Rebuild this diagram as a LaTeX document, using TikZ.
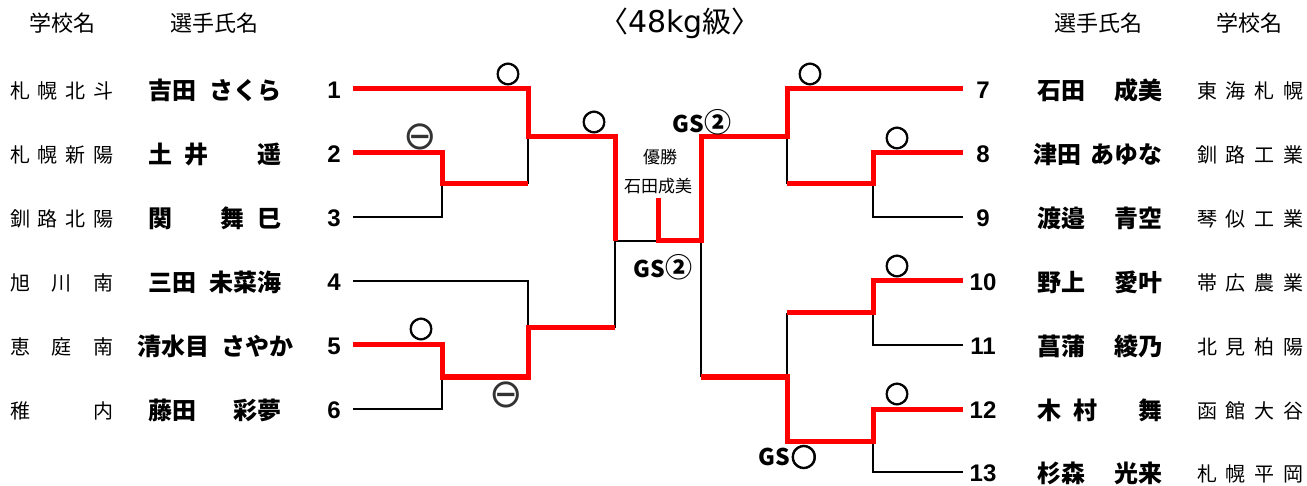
\documentclass[tikz,border=0pt]{standalone}
\usepackage{fontspec}
\newfontfamily\jp{Noto Sans CJK JP}
\newfontfamily\jppalt{Noto Sans CJK JP}[RawFeature=+palt]
\newfontfamily\numfont{Liberation Sans}
\newfontfamily\dvfont{DejaVu Sans}
\newfontfamily\okfont{DejaVu Sans}[FakeBold=2]
\newcommand{\spr}[2]{\hbox to #1pt{#2}}
\newcommand{\bigtwo}{{\fontsize{27}{27}\selectfont ②}}
\begin{document}
\begin{tikzpicture}[x=1pt,y=-1pt,
  school/.style={font=\jp\fontsize{20}{20}\selectfont, inner sep=0pt},
  pname/.style={font=\jp\bfseries\fontsize{24}{24}\selectfont, inner sep=0pt},
  pnum/.style={font=\numfont\bfseries\fontsize{24}{24}\selectfont, inner sep=0pt},
  hdr/.style={font=\jp\fontsize{22}{22}\selectfont, inner sep=0pt},
  okmark/.style={font=\okfont\fontsize{29}{29}\selectfont, inner sep=0pt},
  ngmark/.style={font=\dvfont\fontsize{40}{40}\selectfont, inner sep=0pt, text=black!80},
  gslabel/.style={font=\jp\bfseries\fontsize{23}{23}\selectfont, inner sep=0pt},
  small/.style={font=\jp\fontsize{17}{17}\selectfont, inner sep=0pt},
  win/.style={draw=red, line width=5pt, line join=miter},
  lose/.style={draw=black, line width=2pt}]
\useasboundingbox (0,0) rectangle (1307,486);

% headers
\node[hdr] (h1) at (62,23) {学校名};
\node[hdr] (h2) at (214,23) {選手氏名};
\node[hdr] (h3) at (1098,23) {選手氏名};
\node[hdr] (h4) at (1249,23) {学校名};
\node[inner sep=0pt] (title) at (680,23) {\jppalt\fontsize{29}{29}\selectfont 〈{\dvfont\fontsize{30}{30}\selectfont 48kg}級〉};

% left schools
\node[school] (s1) at (61.5,90.5) {\spr{103}{札\hfil 幌\hfil 北\hfil 斗}};
\node[school] (s2) at (61.5,154.5) {\spr{103}{札\hfil 幌\hfil 新\hfil 陽}};
\node[school] (s3) at (61.5,218.5) {\spr{103}{釧\hfil 路\hfil 北\hfil 陽}};
\node[school] (s4) at (61.5,282.5) {\spr{103}{旭\hfil 川\hfil 南}};
\node[school] (s5) at (61.5,346.5) {\spr{103}{恵\hfil 庭\hfil 南}};
\node[school] (s6) at (61.5,410.5) {\spr{103}{稚\hfil 内}};

% left names
\node[pname] (p1) at (215,90.5) {\spr{134}{吉田\hfil さくら}};
\node[pname] (p2) at (215,154.5) {\spr{134}{土\hspace{13pt}井\hfil 遥}};
\node[pname] (p3) at (215,218.5) {\spr{134}{関\hfil 舞\hspace{13pt}巳}};
\node[pname] (p4) at (215,282.5) {\spr{134}{三田\hfil 未菜海}};
\node[pname] (p5) at (215,346.5) {\spr{156}{清水目\hfil さやか}};
\node[pname] (p6) at (215,410.5) {\spr{134}{藤田\hfil 彩夢}};

% left numbers
\node[pnum] (n1) at (334,90.5) {1};
\node[pnum] (n2) at (334,154.5) {2};
\node[pnum] (n3) at (334,218.5) {3};
\node[pnum] (n4) at (334,282.5) {4};
\node[pnum] (n5) at (334,346.5) {5};
\node[pnum] (n6) at (334,410.5) {6};

% right numbers
\node[pnum] (n7) at (983,90.5) {7};
\node[pnum] (n8) at (983,154.5) {8};
\node[pnum] (n9) at (983,218.5) {9};
\node[pnum] (n10) at (983,282.5) {10};
\node[pnum] (n11) at (983,346.5) {11};
\node[pnum] (n12) at (983,410.5) {12};
\node[pnum] (n13) at (983,473.5) {13};

% right names
\node[pname] (p7) at (1099.5,90.5) {\spr{125}{石田\hfil 成美}};
\node[pname] (p8) at (1097.5,154.5) {\spr{129}{津田\hfil あゆな}};
\node[pname] (p9) at (1099.5,218.5) {\spr{125}{渡邉\hfil 青空}};
\node[pname] (p10) at (1099.5,282.5) {\spr{125}{野上\hfil 愛叶}};
\node[pname] (p11) at (1099.5,346.5) {\spr{125}{菖蒲\hfil 綾乃}};
\node[pname] (p12) at (1099.5,410.5) {\spr{125}{木\hspace{13pt}村\hfil 舞}};
\node[pname] (p13) at (1099.5,473.5) {\spr{125}{杉森\hfil 光来}};

% right schools
\node[school] (s7) at (1250,90.5) {\spr{106}{東\hfil 海\hfil 札\hfil 幌}};
\node[school] (s8) at (1250,154.5) {\spr{106}{釧\hfil 路\hfil 工\hfil 業}};
\node[school] (s9) at (1250,218.5) {\spr{106}{琴\hfil 似\hfil 工\hfil 業}};
\node[school] (s10) at (1250,282.5) {\spr{106}{帯\hfil 広\hfil 農\hfil 業}};
\node[school] (s11) at (1250,346.5) {\spr{106}{北\hfil 見\hfil 柏\hfil 陽}};
\node[school] (s12) at (1250,410.5) {\spr{106}{函\hfil 館\hfil 大\hfil 谷}};
\node[school] (s13) at (1250,473.5) {\spr{106}{札\hfil 幌\hfil 平\hfil 岡}};

% bracket coordinates
\coordinate (a1) at (353,89);
\coordinate (a2) at (353,153);
\coordinate (a3) at (353,217);
\coordinate (a4) at (353,281);
\coordinate (a5) at (353,345);
\coordinate (a6) at (353,409);
\coordinate (b7) at (963,89);
\coordinate (b8) at (963,153);
\coordinate (b9) at (963,217);
\coordinate (b10) at (963,281);
\coordinate (b11) at (963,345);
\coordinate (b12) at (963,409);
\coordinate (b13) at (963,472);
\coordinate (j12) at (442,184);
\coordinate (j1) at (528,137);
\coordinate (j56) at (442,377);
\coordinate (j4) at (528,328);
\coordinate (jL) at (615,241);
\coordinate (jc) at (658,241);
\coordinate (ctop) at (658,198);
\coordinate (jR) at (701,241);
\coordinate (j7) at (787,137);
\coordinate (j89) at (873,184);
\coordinate (jb) at (787,377);
\coordinate (j1011) at (873,313);
\coordinate (j1213) at (873,441);

% losing lines
\draw[lose] (j1) -- (j12 -| j1);
\draw[lose] (a3) -| (j12);
\draw[lose] (a4) -| (j4);
\draw[lose] (a6) -| (j56);
\draw[lose] (jL) -- (j4 -| jL);
\draw[lose] (jL) -- (jc);
\draw[lose] (j7) -- (j7 |- j89);
\draw[lose] (j89) |- (b9);
\draw[lose] (jR) -- (jR |- jb);
\draw[lose] (jb) -- (jb |- j1011);
\draw[lose] (j1011) |- (b11);
\draw[lose] (j1213) |- (b13);

% winning lines
\draw[win] (a1) -| (j1) -- (jL |- j1) -- (jL);
\draw[win] (a2) -| (j12) -- (j12 -| j1);
\draw[win] (a5) -| (j56) -- (j56 -| j4) -- (j4) -- (j4 -| jL);
\draw[win] (ctop) -- (jc) -- (jR) |- (j7) |- (b7);
\draw[win] (j7 |- j89) -- (j89) |- (b8);
\draw[win] (jR |- jb) -- (jb) |- (j1213) |- (b12);
\draw[win] (jb |- j1011) -- (j1011) |- (b10);

% result marks
\node[okmark] (m1) at (508,74) {○};
\node[ngmark] (m2) at (420,137) {⊖};
\node[okmark] (m3) at (594,122) {○};
\node[okmark] (m4) at (421,329) {○};
\node[ngmark] (m5) at (506,395) {⊖};
\node[okmark] (m6) at (810,74) {○};
\node[okmark] (m7) at (897,138) {○};
\node[okmark] (m8) at (897,266) {○};
\node[okmark] (m9) at (897,394) {○};
\node[gslabel] (g1) at (702,122) {GS\bigtwo};
\node[gslabel] (g2) at (663,267) {GS\bigtwo};
\node[gslabel] (g3) at (788,457) {GS{\okfont\fontsize{31}{31}\selectfont ○}};
\node[small] (champ1) at (660,157) {優勝};
\node[small] (champ2) at (658,186) {石田成美};
\end{tikzpicture}
\end{document}
